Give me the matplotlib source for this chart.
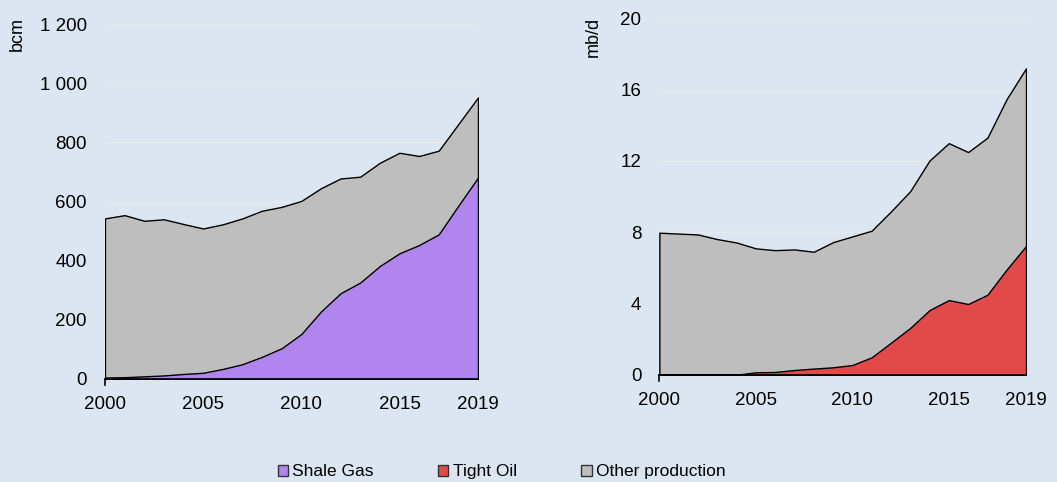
import matplotlib.pyplot as plt
from matplotlib.patches import Patch
from matplotlib.ticker import FuncFormatter

plt.rcParams["font.family"] = ["Liberation Sans", "DejaVu Sans"]

BG = "#DCE6F2"
GREY = "#BEBEBE"
PURPLE = "#B085EE"
RED = "#E24A4A"

years = list(range(2000, 2020))

# gas, bcm
gas_total = [543, 554, 535, 540, 524, 509, 523, 543, 569, 582,
             602, 645, 678, 684, 731, 765, 754, 772, 862, 952]
shale_gas = [5, 6, 9, 12, 17, 21, 34, 50, 75, 104,
             152, 228, 290, 326, 382, 425, 453, 489, 586, 681]

# oil, mb/d
oil_total = [7.98, 7.93, 7.88, 7.62, 7.43, 7.10, 7.00, 7.04, 6.91, 7.45,
             7.77, 8.09, 9.17, 10.31, 12.03, 13.00, 12.50, 13.31, 15.48, 17.20]
tight_oil = [0.02, 0.02, 0.02, 0.02, 0.02, 0.15, 0.17, 0.28, 0.36, 0.43,
             0.56, 0.99, 1.81, 2.64, 3.64, 4.20, 3.98, 4.50, 5.92, 7.23]

xticks = [2000, 2005, 2010, 2015, 2019]
gas_yticks = [0, 200, 400, 600, 800, 1000, 1200]
oil_yticks = [0, 4, 8, 12, 16, 20]

fig = plt.figure(figsize=(10.57, 4.82), dpi=100, facecolor=BG)
ax1 = fig.add_axes([0.0993, 0.2137, 0.3529, 0.7363])
ax2 = fig.add_axes([0.6238, 0.2220, 0.3469, 0.7400])


def draw_panel(ax, total, part, part_color, yticks, unit, unit_x):
    ax.set_facecolor(BG)
    for y in yticks[1:]:
        ax.axhline(y, color="#E9E9E9", linewidth=1, zorder=0)
    ax.fill_between(years, 0, total, facecolor=GREY, edgecolor="black",
                    linewidth=1, zorder=1)
    ax.fill_between(years, 0, part, facecolor=part_color, edgecolor="black",
                    linewidth=1, zorder=2)
    ax.set_xlim(2000, 2019)
    ax.set_ylim(0, yticks[-1])
    ax.set_xticks(xticks)
    ax.set_yticks(yticks)
    ax.yaxis.set_major_formatter(
        FuncFormatter(lambda v, p: f"{int(v):,}".replace(",", " ")))
    for side in ["top", "right", "left"]:
        ax.spines[side].set_visible(False)
    ax.spines["bottom"].set_color("black")
    ax.spines["bottom"].set_linewidth(1.2)
    ax.spines["bottom"].set_zorder(3)
    ax.tick_params(axis="y", length=0, pad=13, labelsize=13.5)
    ax.tick_params(axis="x", length=0, pad=12, labelsize=13.5)
    # single tick below the origin
    ax.plot([2000, 2000], [0, -yticks[-1] * 0.018], color="black",
            linewidth=1.2, clip_on=False, zorder=3)
    fig.text(unit_x, 0.965, unit, rotation=90, ha="center", va="top",
             fontsize=13)


draw_panel(ax1, gas_total, shale_gas, PURPLE, gas_yticks, "bcm", 0.016)
draw_panel(ax2, oil_total, tight_oil, RED, oil_yticks, "mb/d", 0.561)

handles = [
    Patch(facecolor=PURPLE, edgecolor="#333333", label="Shale Gas"),
    Patch(facecolor=RED, edgecolor="#333333", label="Tight Oil"),
    Patch(facecolor=GREY, edgecolor="#333333", label="Other production"),
]
fig.legend(handles=handles, loc="center", bbox_to_anchor=(0.4745, 0.021),
           ncol=3, frameon=False, fontsize=12.5, handlelength=0.6,
           handleheight=0.6, handletextpad=0.25, columnspacing=3.7)

fig.savefig("out.png", dpi=100, facecolor=BG)
